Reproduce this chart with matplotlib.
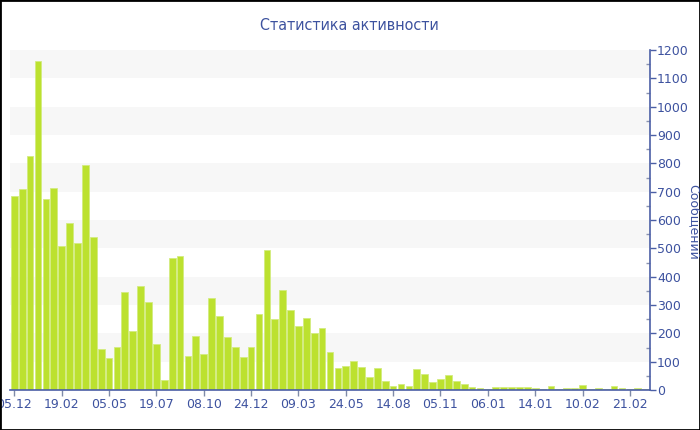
import matplotlib
matplotlib.use('Agg')
import matplotlib.pyplot as plt
from matplotlib.patches import Rectangle
from matplotlib.ticker import MultipleLocator

# messages per period
values = [686, 708, 826, 1160, 675, 713, 509, 591, 518, 793,
          541, 146, 113, 151, 346, 209, 366, 311, 161, 34,
          467, 474, 120, 189, 128, 326, 262, 187, 152, 118,
          151, 267, 495, 249, 353, 281, 227, 253, 202, 220,
          134, 76, 84, 104, 81, 45, 76, 33, 14, 21,
          15, 73, 58, 29, 38, 53, 32, 21, 11, 7,
          4, 12, 9, 11, 9, 11, 6, 4, 14, 4,
          8, 7, 16, 4, 6, 4, 14, 7, 4, 6,
          4]
tick_labels = ['05.12', '19.02', '05.05', '19.07', '08.10', '24.12', '09.03',
               '24.05', '14.08', '05.11', '06.01', '14.01', '10.02', '21.02']
tick_step = 6

blue = '#3d529f'
axis_blue = '#4b5fa6'

fig = plt.figure(figsize=(7, 4.3), dpi=100)
ax = fig.add_axes([10 / 700, 40 / 430, 640 / 700, 340 / 430])

# alternating light bands
for lo in range(100, 1200, 200):
    ax.axhspan(lo, lo + 100, color='#f7f7f7', zorder=0, lw=0)

x = list(range(len(values)))
ax.bar(x, values, width=0.85, color='#bce12f', edgecolor='#d3ec80',
       linewidth=0.6, zorder=2)

ax.set_xlim(-0.55, len(values) - 0.45)
ax.set_ylim(0, 1200)

ax.set_xticks(x[::tick_step])
ax.set_xticklabels(tick_labels)

ax.yaxis.tick_right()
ax.yaxis.set_major_locator(MultipleLocator(100))
ax.yaxis.set_minor_locator(MultipleLocator(50))

for s in ['left', 'top']:
    ax.spines[s].set_visible(False)
for s in ['right', 'bottom']:
    ax.spines[s].set_color(axis_blue)
    ax.spines[s].set_linewidth(1.2)

ax.tick_params(axis='x', colors='#7f8aa8', labelcolor=blue, labelsize=9,
               length=4, width=1, pad=2)
ax.tick_params(axis='y', which='major', colors=axis_blue, labelcolor=blue,
               labelsize=9, length=4, width=1, pad=1, direction='out')
ax.tick_params(axis='y', which='minor', colors='#8a93b0', length=3,
               width=1, direction='in')
ax.set_facecolor('white')

fig.text(349 / 700, 1 - 25 / 430, 'Статистика активности', ha='center',
         va='center', fontsize=11.5, color=blue, fontstretch='condensed')
fig.text(693 / 700, 1 - 222 / 430, 'Сообщений', rotation=270, ha='center',
         va='center', fontsize=9, color=blue)

fig.patches.append(Rectangle((0, 0), 1, 1, transform=fig.transFigure,
                             fill=False, edgecolor='black', linewidth=2))

fig.savefig('out.png', dpi=100)
